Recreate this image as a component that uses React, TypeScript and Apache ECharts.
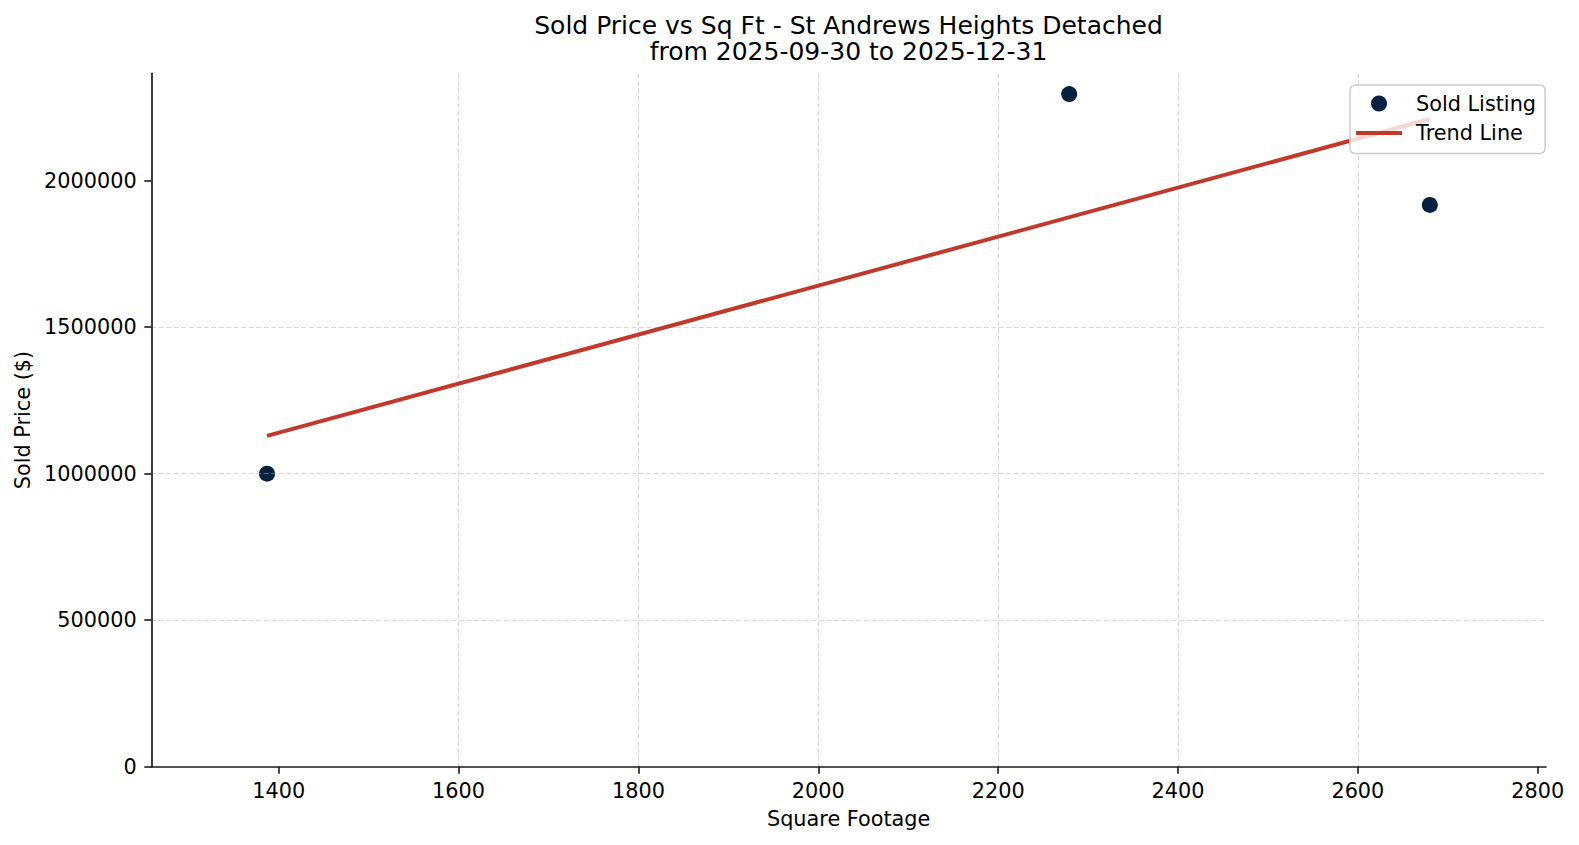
import * as echarts from "echarts";
import { useEffect, useRef } from "react";

const sqft = [1387, 2279, 2680];
const soldPrice = [1000000, 2295000, 1917000];
const trendSqft = [1387, 2680];
const trendPrice = [1129000, 2210000];
const xTicks = [1400, 1600, 1800, 2000, 2200, 2400, 2600, 2800];
const yTicks = [0, 500000, 1000000, 1500000, 2000000];

const fontFamily = "DejaVu Sans";
const inkColor = "#000000";
const spineColor = "#1a1a1a";
const gridColor = "rgba(176, 176, 176, 0.5)";
const dotColor = "#06213f";
const trendColor = "#c0392b";

export default function App() {
  const ref = useRef<HTMLDivElement | null>(null);

  useEffect(() => {
    if (!ref.current) return;
    const chart = echarts.init(ref.current, null, { renderer: "svg" });

    const axisCommon = {
      type: "value" as const,
      nameLocation: "middle" as const,
      nameTextStyle: { color: inkColor, fontSize: 20.8, fontFamily },
      axisLine: { show: true, lineStyle: { color: spineColor, width: 1.7 } },
      axisTick: { show: true, length: 7, lineStyle: { color: spineColor, width: 1.6 } },
      splitLine: { show: true, showMinLine: false, showMaxLine: false, lineStyle: { color: gridColor, width: 1, type: [5, 2.5] } },
    };

    chart.setOption({
      animation: false,
      backgroundColor: "#ffffff",
      title: {
        text: "Sold Price vs Sq Ft - St Andrews Heights Detached\nfrom 2025-09-30 to 2025-12-31",
        left: 848.5,
        top: 12,
        textAlign: "center",
        padding: 0,
        textStyle: { color: inkColor, fontSize: 25, fontWeight: "normal", fontFamily, lineHeight: 26 },
      },
      grid: { left: 151.3, top: 73.3, right: 33, bottom: 78.3, containLabel: false },
      legend: {
        orient: "vertical",
        left: 1350,
        top: 85,
        padding: [8, 9, 10, 6],
        itemWidth: 46,
        itemHeight: 16,
        itemGap: 8.4,
        backgroundColor: "rgba(255, 255, 255, 0.8)",
        borderColor: "#cccccc",
        borderWidth: 1.5,
        borderRadius: 5,
        textStyle: { color: inkColor, fontSize: 20.8, fontFamily, lineHeight: 16, padding: [0, 0, 0, 9] },
        data: [
          { name: "Sold Listing", icon: "circle" },
          { name: "Trend Line", icon: "path://M0,0H46V4H0Z" },
        ],
      },
      xAxis: {
        ...axisCommon,
        name: "Square Footage",
        nameGap: 42,
        min: 1258.3,
        max: 2809.2,
        splitNumber: 8,
        minInterval: 200,
        maxInterval: 200,
        axisTick: { ...axisCommon.axisTick, customValues: xTicks },
        axisLabel: {
          customValues: xTicks,
          margin: 14,
          color: inkColor,
          fontSize: 20.8,
          fontFamily,
          formatter: (value: number) => String(value),
        },
      },
      yAxis: {
        ...axisCommon,
        name: "Sold Price ($)",
        nameGap: 115,
        min: 0,
        max: 2366000,
        minInterval: 500000,
        maxInterval: 500000,
        axisTick: { ...axisCommon.axisTick, customValues: yTicks },
        axisLabel: {
          customValues: yTicks,
          margin: 14.6,
          color: inkColor,
          fontSize: 20.8,
          fontFamily,
          formatter: (value: number) => String(value),
        },
      },
      series: [
        {
          name: "Sold Listing",
          type: "scatter",
          z: -1,
          symbol: "circle",
          symbolSize: 16,
          itemStyle: { color: dotColor, opacity: 1 },
          data: sqft.map((x, i) => [x, soldPrice[i]]),
        },
        {
          name: "Trend Line",
          type: "line",
          symbol: "none",
          lineStyle: { color: trendColor, width: 4 },
          itemStyle: { color: trendColor },
          data: trendSqft.map((x, i) => [x, trendPrice[i]]),
        },
      ],
    });

    return () => {
      chart.dispose();
    };
  }, []);

  return (
    <div
      ref={ref}
      style={{ position: "fixed", left: 0, top: 0, width: 1579, height: 845, background: "#ffffff" }}
    />
  );
}
